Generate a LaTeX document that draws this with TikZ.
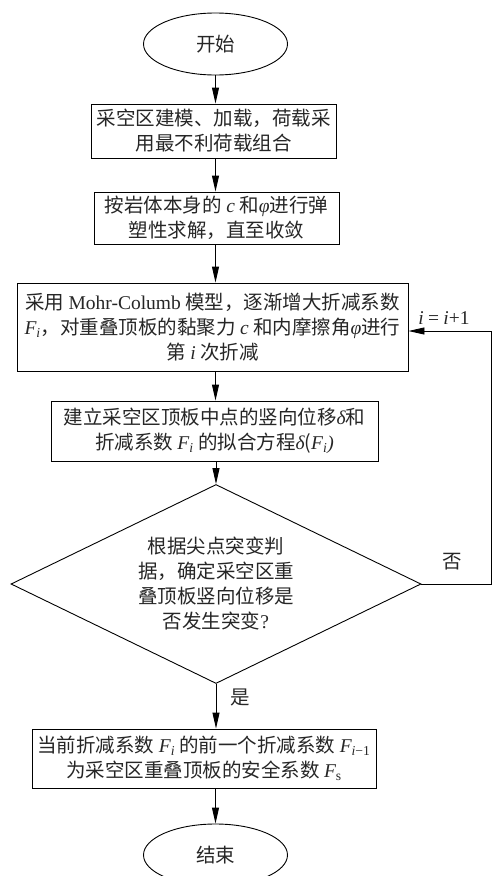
\documentclass[tikz,border=0pt]{standalone}
\usepackage{fontspec}
\setmainfont{Noto Sans CJK SC}
\newfontfamily\tnr{Liberation Serif}
\usetikzlibrary{shapes.geometric,arrows.meta}
\newcommand\mv[1]{{\tnr\itshape #1}}
\newcommand\Fsub[1]{{\tnr\itshape F}\textsubscript{#1}}
\begin{document}
\begin{tikzpicture}[x=1pt,y=-1pt,
  every node/.style={font=\fontsize{19.5}{25}\selectfont, text=black!85},
  box/.style={draw, line width=0.9pt, inner sep=0pt, align=center},
  term/.style={draw, line width=0.9pt, ellipse, inner sep=0pt, minimum width=144pt, minimum height=62pt},
  decide/.style={draw, line width=0.9pt, diamond, aspect=2.06, inner sep=0pt, minimum width=410pt, minimum height=199pt, align=center},
  arr/.style={line width=0.9pt, -{Triangle[length=16pt,width=7pt]}},
  lbl/.style={inner sep=0pt}]
\useasboundingbox (0,0) rectangle (493,876);
\clip (0,0) rectangle (493,876);
\node[term] (start) at (215.5,44) {开始};
\node[box, minimum width=245pt, minimum height=54pt] (b1) at (213.5,131) {采空区建模、加载，荷载采\\用最不利荷载组合};
\node[box, minimum width=245pt, minimum height=52pt] (b2) at (216.5,218) {按岩体本身的 \mv{c} 和\mv{φ}进行弹\\塑性求解，直至收敛};
\node[box, minimum width=391pt, minimum height=88pt] (b3) at (212.5,327) {采用 {\tnr Mohr-Columb} 模型，逐渐增大折减系数\\\Fsub{\tnr\itshape i}，对重叠顶板的黏聚力 \mv{c} 和内摩擦角\mv{φ}进行\\第 \mv{i} 次折减};
\node[box, minimum width=327pt, minimum height=60pt] (b4) at (214.5,431) {建立采空区顶板中点的竖向位移\mv{δ}和\\折减系数 \Fsub{\tnr\itshape i} 的拟合方程\mv{δ}(\Fsub{\tnr\itshape i}\mv{)}};
\node[decide] (dia) at (216,584) {根据尖点突变判\\据，确定采空区重\\叠顶板竖向位移是\\否发生突变{\tnr ?}};
\node[box, minimum width=344pt, minimum height=59pt] (b5) at (204,758.5) {当前折减系数 \Fsub{\tnr\itshape i} 的前一个折减系数 \Fsub{\tnr\itshape i\upshape −1}\\为采空区重叠顶板的安全系数 \Fsub{\tnr s}};
\node[term] (stop) at (215.5,855) {结束};
\coordinate (cr) at (491,584);
\draw[arr] (start.south) -- (start.south |- b1.north);
\draw[arr] (b1.south -| start.south) -- (b2.north -| start.south);
\draw[arr] (b2.south -| start.south) -- (b3.north -| start.south);
\draw[arr] (b3.south -| start.south) -- (b4.north -| start.south);
\draw[arr] (b4.south -| dia.north) -- (dia.north);
\draw[arr] (dia.south) -- (dia.south |- b5.north);
\draw[arr] (b5.south -| stop.north) -- (stop.north);
\draw[arr] (dia.east) -- (cr) |- ([yshift=-4pt]b3.east);
\node[lbl] (li) at (444,318) {\mv{i} {\tnr =} \mv{i}{\tnr +1}};
\node[lbl] (lno) at (452,562) {否};
\node[lbl] (lyes) at (240,697) {是};
\end{tikzpicture}
\end{document}
